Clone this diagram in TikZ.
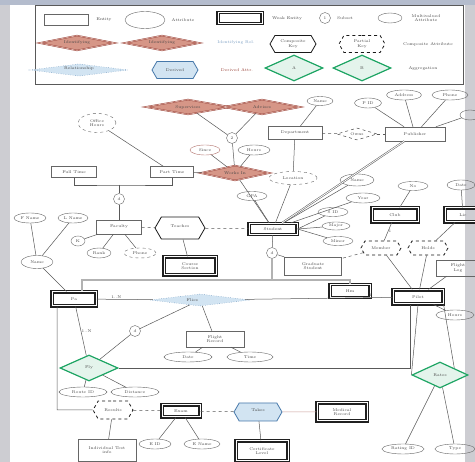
\documentclass[tikz,border=0pt]{standalone}
\usepackage{tikz}
\usetikzlibrary{shapes.geometric,shapes.symbols,positioning}

\definecolor{rdfill}{RGB}{214,150,135}
\definecolor{rdline}{RGB}{150,60,50}
\definecolor{bline}{RGB}{70,120,170}
\definecolor{bfill}{RGB}{210,228,242}
\definecolor{gline}{RGB}{30,165,100}
\definecolor{txt}{RGB}{70,70,70}
\definecolor{bgray}{RGB}{205,205,210}
\definecolor{btop}{RGB}{180,188,205}

\tikzset{
  lbl/.style={font=\fontsize{4}{4.6}\selectfont, text=txt, inner sep=0.5pt, align=center},
  ent/.style={lbl, draw=gray!80!black, rectangle, minimum width=#1, minimum height=11pt},
  ent/.default=44pt,
  went/.style={ent=#1, draw=gray!25!black, double=white, double distance=1pt, very thick},
  went/.default=44pt,
  attr/.style={lbl, draw=gray!80!black, ellipse, minimum width=#1, minimum height=10pt},
  attr/.default=30pt,
  isa/.style={lbl, draw=gray!80!black, circle, minimum size=11pt},
  rrel/.style={lbl, diamond, aspect=5, draw=rdline, fill=rdfill, double=rdfill!60, double distance=0.6pt, minimum width=#1, minimum height=15pt},
  rrel/.default=78pt,
  brel/.style={lbl, diamond, aspect=8, draw=bline, fill=bfill, dotted, minimum width=#1, minimum height=12pt},
  brel/.default=90pt,
  grel/.style={lbl, diamond, aspect=2, draw=gline, line width=1.2pt, fill=gline!12, minimum width=#1, minimum height=26pt},
  grel/.default=58pt,
  hexa/.style={lbl, signal, signal to=east and west, signal pointer angle=120, draw=gray!20!black, thick, minimum width=#1, minimum height=17pt},
  hexa/.default=46pt,
  ln/.style={draw=gray!70!black, line width=0.5pt},
}

\begin{document}
\begin{tikzpicture}[x=1pt, y=-1pt]
 %background
    \fill[bgray] (0,0) rectangle (475,462);
    \fill[btop] (0,0) rectangle (475,5);
    \fill[white] (10,5) rectangle (465,462);
    \useasboundingbox (0,0) rectangle (475,462);

 %legend
    \draw[gray!70!black] (35,5) rectangle (463,84);
    \node[ent] (lgE) at (66,20) {};
    \node[lbl] (lgEt) at (104,20) {Entity};
    \node[attr=40pt, minimum height=17pt] (lgA) at (145,20) {};
    \node[lbl] (lgAt) at (183,20) {Attribute};
    \node[went] (lgW) at (240,18) {};
    \node[lbl] (lgWt) at (287,19) {Weak Entity};
    \node[isa] (lgC) at (325,18) {1};
    \node[lbl] (lgCt) at (345,18) {Subset};
    \node[attr=24pt] (lgM) at (390,18) {};
    \node[lbl] (lgMt) at (426,18) {Multivalued\\Attribute};
    \node[rrel=76pt] (lgR1) at (77,43) {Identifying};
    \node[rrel=76pt] (lgR2) at (162,43) {Identifying};
    \node[lbl, text=bline!70] (lgRt) at (236,43) {Identifying Rel.};
    \node[hexa] (lgH1) at (293,44) {Composite\\Key};
    \node[hexa, dashed] (lgH2) at (362,44) {Partial\\Key};
    \node[lbl] (lgHt) at (428,44) {Composite Attribute};
    \node[brel=84pt] (lgB1) at (79,70) {Relationship\\ \, \, \,};
    \node[hexa, draw=bline, fill=bfill] (lgB2) at (175,70) {Derived};
    \node[lbl, text=rdline] (lgBt) at (237,70) {Derived Attr.};
    \node[grel] (lgG1) at (294,68) {A};
    \node[grel] (lgG2) at (362,68) {B};
    \node[lbl] (lgGt) at (423,68) {Aggregation};

 %top
    \node[rrel=86pt] (rdA) at (188,107) {Supervises};
    \node[rrel=78pt] (rdB) at (262,107) {Advises};
    \node[isa] (isaT) at (232,138) {2};
    \node[attr=30pt, draw=rdline!70] (atA) at (205,150) {Since};
    \node[attr=32pt] (atB) at (254,150) {Hours};
    \node[rrel=70pt] (rdC) at (235,173) {Works In};
    \draw[ln] (rdA) -- (isaT);
    \draw[ln] (rdB) -- (isaT);
    \draw[ln] (isaT) -- (rdC);
    \draw[ln] (atA) -- (rdC);
    \draw[ln] (atB) -- (rdC);

    \node[attr=38pt, dashed, minimum height=19pt] (dsE) at (97,123) {Office\\Hours};
    \node[ent=45pt] (enL1) at (74,172) {Full Time};
    \node[ent=43pt] (enL2) at (172,172) {Part Time};
    \draw[ln] (dsE) -- (enL2);
    \draw[ln] (enL2) -- (rdC);
    \node[isa] (isaL) at (119,199) {d};
    \coordinate (brL) at (119,185);
    \draw[ln] (enL1.south) |- (brL) -| (enL2.south);
    \draw[ln] (brL) -- (isaL);
    \node[ent=45pt, minimum height=14pt] (enLib) at (119,227) {Faculty};
    \draw[ln] (isaL) -- (enLib);

    \node[attr=32pt] (at1) at (30,218) {F Name};
    \node[attr=30pt] (at2) at (73,218) {L Name};
    \node[attr=32pt, minimum height=13pt] (atVP) at (37,262) {Name};
    \node[attr=14pt] (at3) at (78,241) {K};
    \node[attr=24pt] (at4) at (99,253) {Rank};
    \node[attr=32pt, dashed] (at5) at (140,253) {Phone};
    \draw[ln] (at1) -- (atVP);
    \draw[ln] (at2) -- (atVP);
    \draw[ln] (enLib) -- (at3);
    \draw[ln] (enLib) -- (at4);
    \draw[ln] (enLib) -- (at5);

    \node[hexa=50pt, minimum height=22pt] (hxS) at (180,228) {Teaches\\ \, };
    \node[went=48pt] (enStu) at (273,229) {Student};
    \node[went=52pt, minimum height=18pt] (wkR1) at (190,266) {Course\\Section};
    \draw[ln, dashed] (enLib) -- (hxS);
    \draw[ln, dashed] (hxS) -- (enStu);
    \draw[ln] (hxS) -- (wkR1);

 %upper right
    \node[ent=54pt, minimum height=13pt] (enSh) at (295,133) {Department};
    \node[attr=26pt, minimum height=9pt] (atN1) at (320,101) {Name};
    \node[diamond, aspect=3, lbl, draw=gray!30!black, dashed, minimum width=40pt, minimum height=12pt] (rlD) at (357,134) {Owns};
    \node[ent=60pt, minimum height=14pt] (enPu) at (415,134) {Publisher};
    \node[attr=27pt] (atP1) at (368,103) {P ID};
    \node[attr=35pt] (atP2) at (404,95) {Address};
    \node[attr=36pt] (atP3) at (450,95) {Phone};
    \node[attr=20pt] (atP4) at (470,115) {};
    \draw[ln] (atN1) -- (enSh);
    \draw[ln, dashed] (enSh) -- (rlD);
    \draw[ln, dashed] (rlD) -- (enPu);
    \draw[ln] (atP1) -- (enPu);
    \draw[ln] (atP2) -- (enPu);
    \draw[ln] (atP3) -- (enPu);
    \draw[ln] (atP4) -- (enPu);

    \node[attr=48pt, dashed, minimum height=13pt] (atD) at (293,178) {Location};
    \node[attr=34pt, minimum height=12pt] (atN2) at (357,180) {Name};
    \node[attr=34pt, minimum height=10pt] (atS4) at (363,198) {Year};
    \node[attr=30pt, minimum height=9pt] (atS5) at (252,196) {GPA};
    \node[attr=30pt, minimum height=9pt] (atS1) at (333,212) {S ID};
    \node[attr=28pt, minimum height=8pt] (atS2) at (336,226) {Major};
    \node[attr=30pt, minimum height=9pt] (atS3) at (338,241) {Minor};
    \draw[ln] (enSh) -- (atD);
    \draw[ln] (atD) -- (enStu);
    \draw[ln] (rdC) -- (enStu);
    \draw[ln, double, double distance=0.8pt] (enPu) -- (enStu);
    \draw[ln] (atN2) -- (enStu);
    \draw[ln] (atS4) -- (enStu);
    \draw[ln] (atS5) -- (enStu);
    \draw[ln] (atS1) -- (enStu.east);
    \draw[ln] (atS2) -- (enStu.east);
    \draw[ln] (atS3) -- (enStu.east);

 %right
    \node[went=46pt, minimum height=14pt] (enC) at (395,215) {Club};
    \node[went=36pt, minimum height=14pt] (enLc) at (463,215) {Lic};
    \node[attr=30pt, minimum height=9pt] (atNo) at (413,186) {No};
    \node[attr=28pt] (atLc) at (461,185) {Date};
    \node[hexa=40pt, dashed, minimum height=14pt] (hx1) at (381,248) {Member};
    \node[hexa=40pt, dashed, minimum height=14pt] (hx2) at (428,248) {Holds};
    \node[ent=57pt, minimum height=18pt] (rect1) at (313,266) {Graduate\\Student};
    \node[ent=44pt, minimum height=16pt] (rect2) at (458,268) {Flight\\Log};
    \node[attr=38pt] (at14) at (455,315) {Hours};
    \draw[ln] (atNo) -- (enC);
    \draw[ln] (atLc) -- (enLc);
    \draw[ln] (enC) -- node[lbl, right] {1} (hx1);
    \draw[ln] (enLc) -- (hx2);
    \draw[ln, dashed] (hx1) -- (rect1);

 %middle band
    \node[isa] (isaS) at (272,253) {d};
    \node[went=44pt, minimum height=14pt] (Pa) at (74,299) {Pa};
    \node[went=40pt, minimum height=13pt] (Hm) at (350,291) {Hm};
    \node[went=50pt, minimum height=14pt] (Pb) at (418,297) {Pilot};
    \draw[ln] (enStu) -- (isaS);
    \draw[ln] (isaS) -- (rect1);
    \draw[ln] (hx1) -- (Pb);
    \draw[ln] (hx2) -- (Pb);
    \draw[ln] (Pb) -- (rect2);
    \draw[ln] (Pb) -- (at14);
    \draw[ln] (atVP) -- (Pa);
    \coordinate (barL) at (82,280);
    \coordinate (barR) at (350,280);
    \draw[gray!60, line width=1.8pt] (Pa.north -| barL) -- (barL) -- (barR) -- (Hm.north);
    \draw[gray!60, line width=1.8pt] (isaS) -- (isaS |- barL);

    \node[brel=100pt] (bdR) at (200,300) {Flies \, \, \, \, \, \,};
    \draw[ln] (Pa) -- node[lbl, above, pos=0.35] {1..N} (bdR);
    \draw[ln] (bdR) -- node[lbl, above, pos=0.85] {1} (Pb);
    \node[isa] (isaP) at (135,331) {d};
    \node[ent=58pt, minimum height=16pt] (enR2) at (215,339) {Flight\\Record};
    \node[attr=48pt] (at6) at (188,357) {Date};
    \node[attr=46pt] (at7) at (250,357) {Time};
    \draw[ln] (bdR) -- (isaP);
    \draw[ln] (bdR) -- (enR2);
    \draw[ln] (enR2) -- (at6);
    \draw[ln] (enR2) -- (at7);

 %bottom
    \node[grel] (gdA) at (89,368) {Fly};
    \node[attr=48pt] (at8) at (83,392) {Route ID};
    \node[attr=48pt] (at9) at (135,392) {Distance};
    \draw[ln] (Pa) -- node[lbl, right] {1..N} (gdA);
    \draw[ln] (isaP) -- (gdA);
    \draw[ln] (gdA) -- (at8);
    \draw[ln] (gdA) -- (at9);
    \coordinate (rtB) at (410,368);
    \draw[ln] (gdA.east) -- (rtB) -- (rtB |- Pb.south);

    \coordinate (lfB) at (57,410);
    \node[hexa=40pt, dashed, minimum height=18pt] (hxR) at (113,410) {Results};
    \node[ent=58pt, minimum height=22pt] (enRes) at (107,450) {Individual Test\\info};
    \node[went=38pt, minimum height=12pt] (enBk) at (181,411) {Exam};
    \node[attr=32pt] (at10) at (155,444) {E ID};
    \node[attr=36pt] (at11) at (202,444) {E Name};
    \node[hexa=48pt, draw=bline, fill=bfill, minimum height=18pt] (hxB) at (258,412) {Takes\\ \,};
    \node[went=50pt, minimum height=18pt] (enDR) at (342,412) {Medical\\Record};
    \node[went=52pt, minimum height=20pt] (enLS) at (262,451) {Certificate\\Level};
    \draw[ln] (Pa.south -| lfB) -- (lfB) -- (hxR);
    \draw[ln] (hxR) -- (enRes);
    \draw[ln, dashed] (hxR) -- (enBk);
    \draw[ln] (enBk) -- (at10);
    \draw[ln] (enBk) -- (at11);
    \draw[ln, dashed] (enBk) -- (hxB);
    \draw[ln, rdline!50] (hxB) -- (enDR);
    \draw[ln] (hxB) -- (enLS);

    \node[grel=56pt] (gdB) at (440,375) {Rates};
    \node[attr=42pt] (at12) at (403,449) {Rating ID};
    \node[attr=40pt] (at13) at (455,449) {Type};
    \draw[ln] (Pb.south) -- (gdB.west);
    \draw[ln] (Pb.south east) -- (gdB.north east);
    \draw[ln] (gdB) -- (at12);
    \draw[ln] (gdB) -- (at13);
  \end{tikzpicture}
\end{document}
